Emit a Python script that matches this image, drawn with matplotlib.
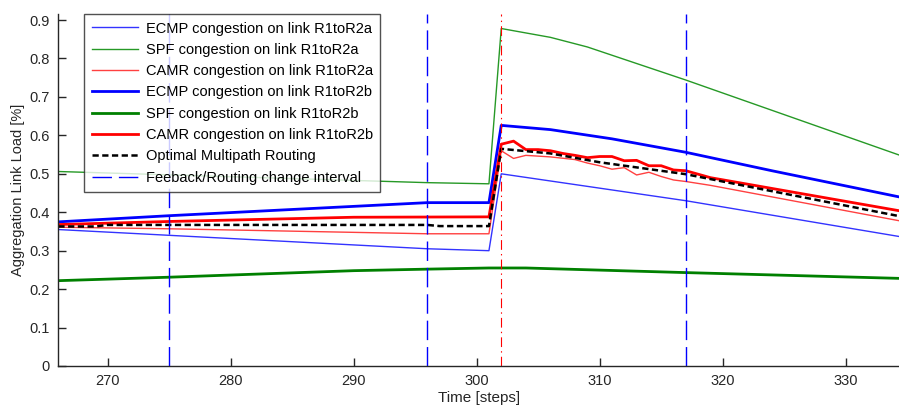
import matplotlib
matplotlib.use("Agg")
import matplotlib.pyplot as plt

plt.rcParams['font.family'] = ['Liberation Sans', 'DejaVu Sans']
plt.rcParams['lines.scale_dashes'] = False

# ---- data ----
ecmp_a_x = [266, 275, 296, 301, 302, 317, 334.33]
ecmp_a_y = [0.355, 0.340, 0.305, 0.300, 0.500, 0.430, 0.337]

spf_a_x = [266, 296, 301, 302, 306, 309, 313, 317, 334.33]
spf_a_y = [0.506, 0.477, 0.474, 0.878, 0.855, 0.830, 0.787, 0.744, 0.549]

camr_a_x = [266, 275, 296, 301, 302, 303, 304, 306, 308, 309, 310, 311, 312, 313,
            314, 315, 316, 317, 319, 334.33]
camr_a_y = [0.361, 0.357, 0.344, 0.344, 0.560, 0.540, 0.548, 0.544, 0.537, 0.528,
            0.521, 0.512, 0.516, 0.497, 0.504, 0.493, 0.484, 0.480, 0.470, 0.378]

ecmp_b_x = [266, 275, 296, 301, 302, 306, 311, 317, 324, 334.33]
ecmp_b_y = [0.375, 0.391, 0.425, 0.425, 0.626, 0.615, 0.591, 0.556, 0.508, 0.440]

spf_b_x = [266, 275, 290, 296, 301, 304, 317, 334.33]
spf_b_y = [0.222, 0.231, 0.248, 0.252, 0.255, 0.255, 0.243, 0.228]

camr_b_x = [266, 275, 290, 301, 302, 303, 304, 305, 306, 307, 308, 309, 310, 311,
            312, 313, 314, 315, 316, 317, 319, 334.33]
camr_b_y = [0.368, 0.376, 0.387, 0.388, 0.577, 0.585, 0.563, 0.563, 0.560, 0.553,
            0.548, 0.542, 0.545, 0.545, 0.534, 0.535, 0.521, 0.521, 0.510, 0.508,
            0.490, 0.404]

opt_x = [266, 269, 270, 296, 297, 301, 302, 306, 310, 317, 320, 334.33]
opt_y = [0.363, 0.363, 0.367, 0.367, 0.364, 0.364, 0.565, 0.553, 0.530, 0.499,
         0.480, 0.390]

feedback_steps = [275, 296, 317]
event_step = 302

xticks = [270, 280, 290, 300, 310, 320, 330]
yticks = [0, 0.1, 0.2, 0.3, 0.4, 0.5, 0.6, 0.7, 0.8, 0.9]

# ---- figure ----
fig = plt.figure(figsize=(8.99, 4.05), dpi=100)
ax = fig.add_axes([0.0649, 0.0963, 0.9351, 0.8684])

blue = (0, 0, 1)
green = (0, 0.5, 0)
red = (1, 0, 0)
thin_blue = (0.2, 0.2, 1.0)
thin_green = (0.15, 0.6, 0.15)
thin_red = (1.0, 0.25, 0.25)
thin = 1.0
thick = 2.0

ax.plot(ecmp_a_x, ecmp_a_y, color=thin_blue, lw=thin, label='ECMP congestion on link R1toR2a')
ax.plot(spf_a_x, spf_a_y, color=thin_green, lw=thin, label='SPF congestion on link R1toR2a')
ax.plot(camr_a_x, camr_a_y, color=thin_red, lw=thin, label='CAMR congestion on link R1toR2a')
ax.plot(ecmp_b_x, ecmp_b_y, color=blue, lw=thick, label='ECMP congestion on link R1toR2b')
ax.plot(spf_b_x, spf_b_y, color=green, lw=thick, label='SPF congestion on link R1toR2b')
ax.plot(camr_b_x, camr_b_y, color=red, lw=thick, label='CAMR congestion on link R1toR2b')
ax.plot(opt_x, opt_y, color='black', lw=1.8, dashes=(4.5, 2.5),
        label='Optimal Multipath Routing')

for i, s in enumerate(feedback_steps):
    ax.axvline(s, color=blue, lw=1.0, dashes=(14, 5),
               label='Feeback/Routing change interval' if i == 0 else None)
ax.axvline(event_step, color=red, lw=0.8, dashes=(7, 3, 1, 3))

ax.set_xlim(266, 334.33)
ax.set_ylim(0, 0.915)
ax.set_xticks(xticks)
ax.set_yticks(yticks)
ax.set_yticklabels(['0', '0.1', '0.2', '0.3', '0.4', '0.5', '0.6', '0.7', '0.8', '0.9'])

for sp in ['top', 'right']:
    ax.spines[sp].set_visible(False)
for sp in ['left', 'bottom']:
    ax.spines[sp].set_color('#262626')
    ax.spines[sp].set_linewidth(1.0)

ax.tick_params(direction='in', length=6, width=1.0, colors='#262626',
               labelsize=10.5, pad=6)
ax.set_xlabel('Time [steps]', fontsize=11, labelpad=2, color='#262626')
ax.set_ylabel('Aggregation Link Load [%]', fontsize=10.5, labelpad=3, color='#262626')

leg = ax.legend(loc='upper left', bbox_to_anchor=(0.031, 1.0), fontsize=10.5,
                frameon=True, fancybox=False, edgecolor='#262626',
                handlelength=3.2, handletextpad=0.5, labelspacing=0.5,
                borderpad=0.5, borderaxespad=0)
leg.get_frame().set_linewidth(1.0)

fig.savefig('out.png', dpi=100)
